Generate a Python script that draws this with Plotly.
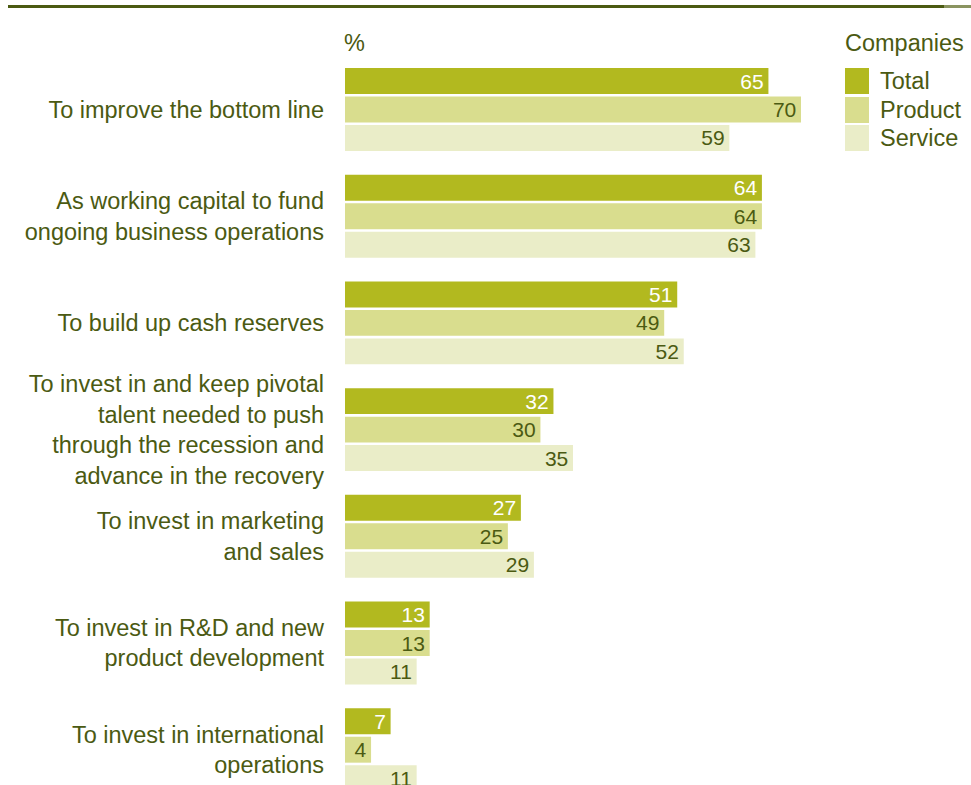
import plotly.graph_objects as go

categories = [
    "To improve the bottom line",
    "As working capital to fund<br>ongoing business operations",
    "To build up cash reserves",
    "To invest in and keep pivotal<br>talent needed to push<br>through the recession and<br>advance in the recovery",
    "To invest in marketing<br>and sales",
    "To invest in R&D and new<br>product development",
    "To invest in international<br>operations",
]
series_names = ["Total", "Product", "Service"]
total = [65, 64, 51, 32, 27, 13, 7]
product = [70, 64, 49, 30, 25, 13, 4]
service = [59, 63, 52, 35, 29, 11, 11]

colors = ["#b2b91f", "#d9dd8e", "#eaedc8"]
text_colors = ["#ffffff", "#4b5a12", "#4b5a12"]
dark = "#4b5a12"
FONT = "Liberation Sans, Arial, sans-serif"
LABEL_SIZE = 23.5

W, H = 971, 785
L, R, T, B = 345, 136, 60, 0
plot_w = W - L - R
plot_h = H - T - B
px_per_unit = 456 / 70.0
x_max = plot_w / px_per_unit

group_px = 106.7
first_center = 109.5
y_top = (T - first_center) / group_px
y_bot = (H - B - first_center) / group_px

fig = go.Figure()
for name, vals, c, tc in zip(series_names, [total, product, service], colors, text_colors):
    fig.add_trace(go.Bar(
        y=categories, x=vals, orientation="h", name=name,
        marker=dict(color=c, line=dict(width=0)),
        text=[str(v) + "\u200a" for v in vals], textposition="inside",
        insidetextanchor="end", textangle=0,
        textfont=dict(color=tc, size=21, family=FONT),
        showlegend=False, cliponaxis=True,
    ))

fig.update_layout(
    width=W, height=H,
    margin=dict(l=L, r=R, t=T, b=B, pad=0),
    plot_bgcolor="white", paper_bgcolor="white",
    barmode="group", bargap=0.2, bargroupgap=0.088,
    uniformtext=dict(minsize=21, mode="show"),
    xaxis=dict(range=[0, x_max], visible=False, fixedrange=True),
    yaxis=dict(
        type="category", range=[y_bot, y_top],
        showgrid=False, zeroline=False, showline=False, ticks="",
        ticklabelstandoff=20,
        tickfont=dict(size=LABEL_SIZE, color=dark, family=FONT),
    ),
    font=dict(family=FONT, color=dark),
)

def px_x(px):
    return (px - L) / plot_w

def px_y(py):
    return (H - B - py) / plot_h

shapes = [
    dict(type="line", xref="paper", yref="paper", x0=px_x(8), x1=px_x(944),
         y0=px_y(6.5), y1=px_y(6.5), line=dict(color=dark, width=3)),
    dict(type="line", xref="paper", yref="paper", x0=px_x(944), x1=px_x(971),
         y0=px_y(6.5), y1=px_y(6.5), line=dict(color="#8a9460", width=3)),
]
annotations = [
    dict(text="%", xref="paper", yref="paper", x=px_x(342), y=px_y(43),
         xanchor="left", yanchor="middle", showarrow=False,
         font=dict(size=LABEL_SIZE, color=dark, family=FONT)),
    dict(text="Companies", xref="paper", yref="paper", x=px_x(843), y=px_y(43),
         xanchor="left", yanchor="middle", showarrow=False,
         font=dict(size=LABEL_SIZE, color=dark, family=FONT)),
]
leg_tops = [68, 97, 125]
for name, c, top in zip(series_names, colors, leg_tops):
    shapes.append(dict(type="rect", xref="paper", yref="paper",
                       x0=px_x(845), x1=px_x(869), y0=px_y(top + 26), y1=px_y(top),
                       fillcolor=c, line=dict(width=0)))
    annotations.append(dict(text=name, xref="paper", yref="paper", x=px_x(878),
                            y=px_y(top + 13), xanchor="left", yanchor="middle",
                            showarrow=False, font=dict(size=LABEL_SIZE, color=dark, family=FONT)))

fig.update_layout(shapes=shapes, annotations=annotations)
fig.write_html("out.html")
